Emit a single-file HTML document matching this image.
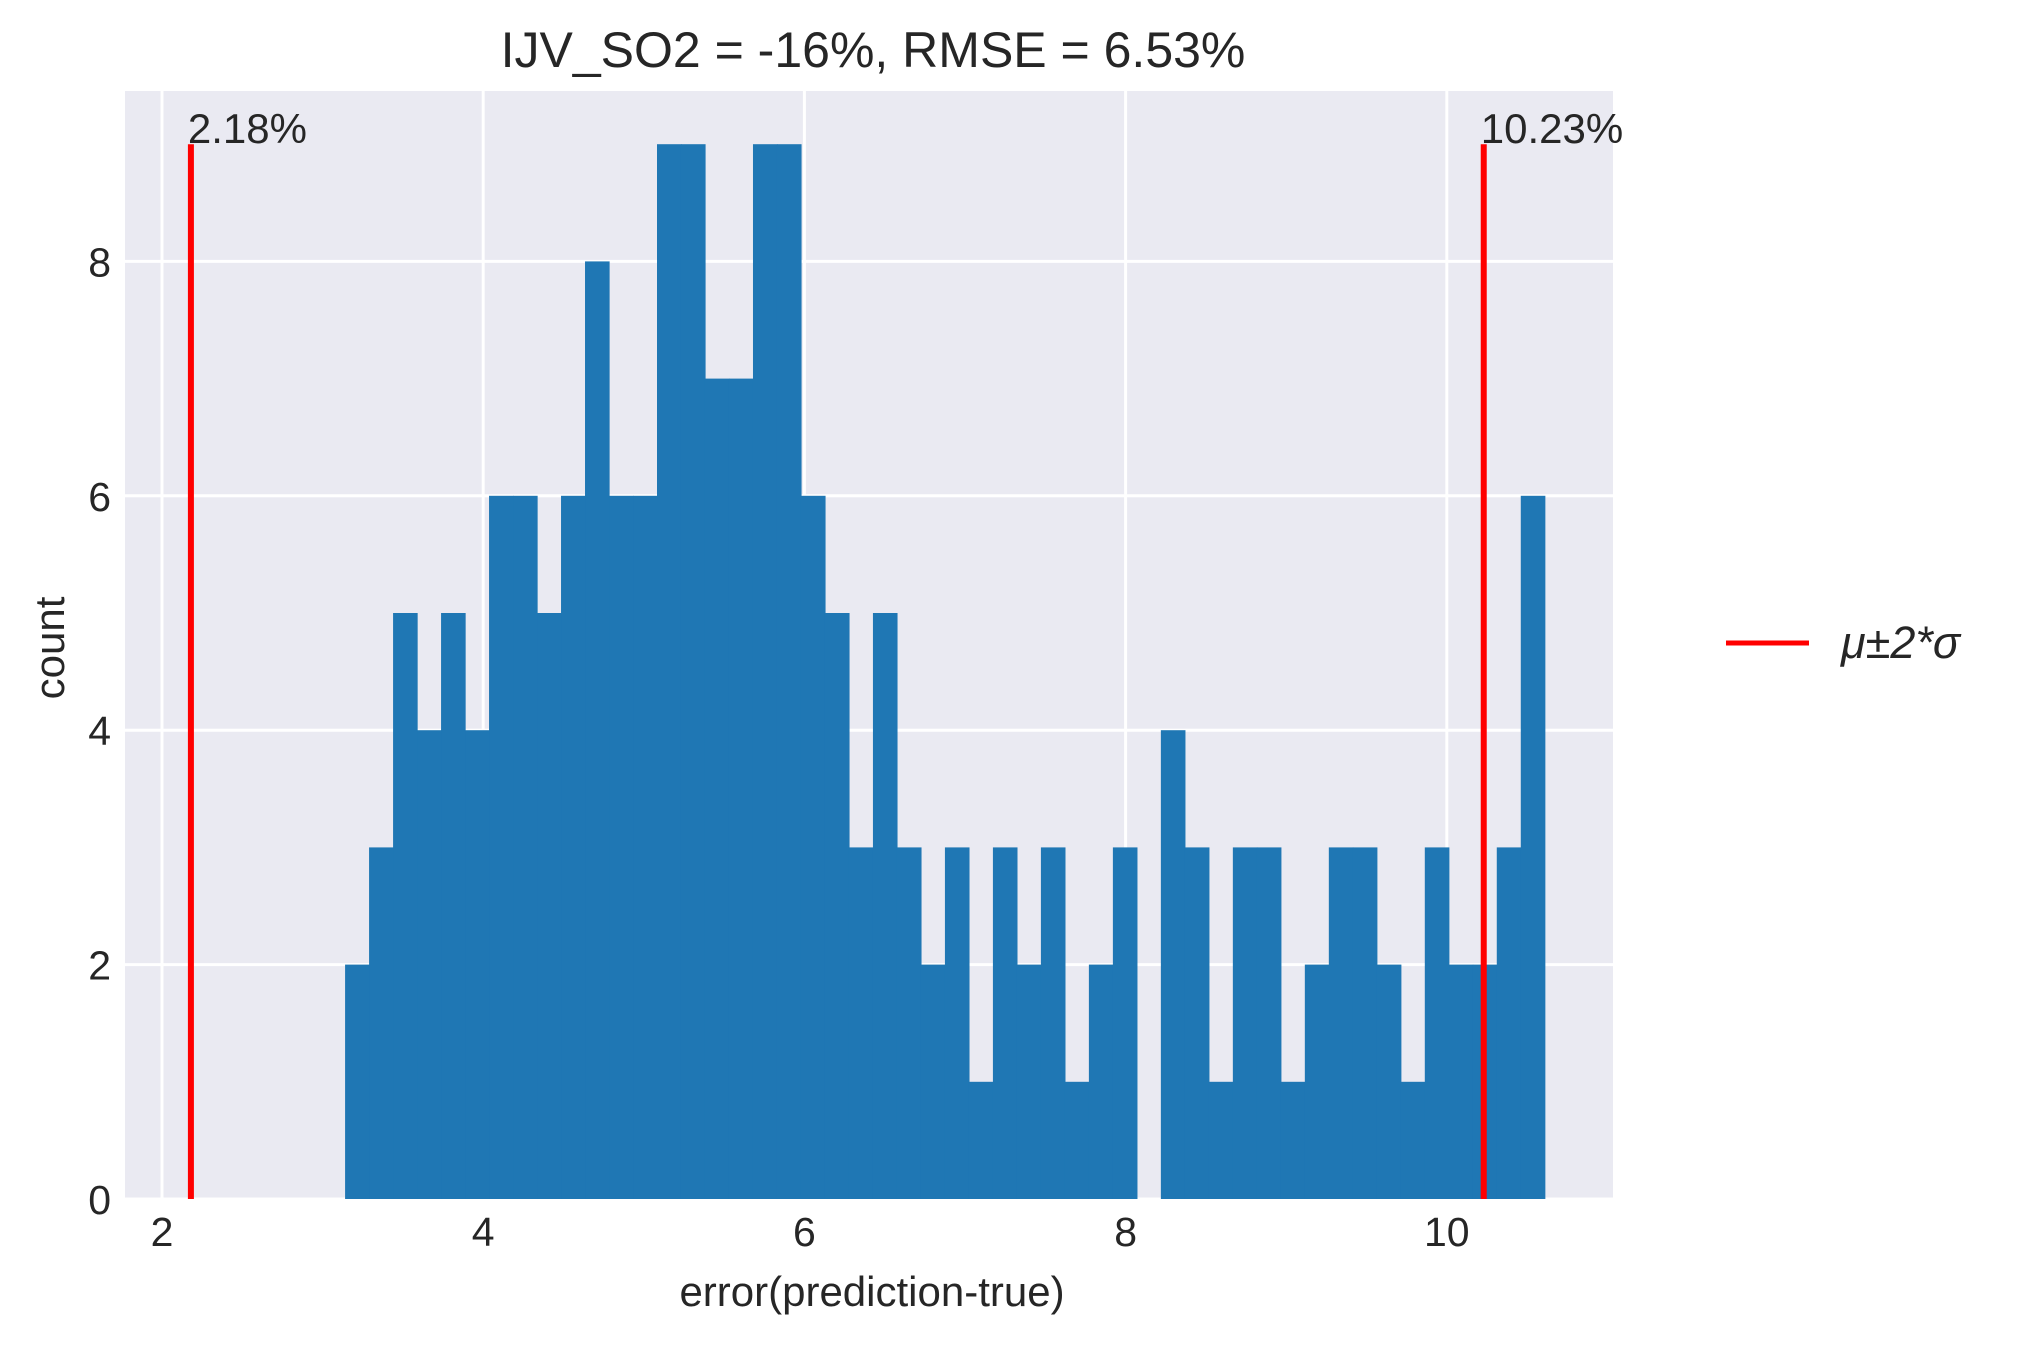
<!DOCTYPE html>
<html><head><meta charset="utf-8"><style>
body{margin:0;background:#fff}
svg text{font-family:"Liberation Sans",sans-serif;fill:#262626}
</style></head><body>
<svg id="chart" width="2018" height="1341" viewBox="0 0 2018 1341" xmlns="http://www.w3.org/2000/svg">
<rect x="125" y="91" width="1488" height="1108" fill="#eaeaf2"/>
<g id="grid"></g>
<g id="bars"></g>
<g id="lines"></g>
<g id="ticks"></g>
<text x="873" y="67" font-size="50" text-anchor="middle">IJV_SO2 = -16%, RMSE = 6.53%</text>
<text x="872" y="1306" font-size="42" text-anchor="middle">error(prediction-true)</text>
<text transform="translate(64,648) rotate(-90)" font-size="42" text-anchor="middle">count</text>
<g>
<line x1="1726" y1="643" x2="1809" y2="643" stroke="#ff0000" stroke-width="5"/>
<text x="1841" y="658" font-size="45" font-style="italic">μ±2*σ</text>
</g>
</svg>
<script>
const binStart = 3.14;
const binWidth = 0.1494;
const counts = [2,3,5,4,5,4,6,6,5,6,8,6,6,9,9,7,7,9,9,6,5,3,5,3,2,3,1,3,2,3,1,2,3,0,4,3,1,3,3,1,2,3,3,2,1,3,2,2,3,6];
const xTicks = [2,4,6,8,10];
const yTicks = [0,2,4,6,8];
const sigmaLines = [2.18, 10.23];
const sigmaLabels = ["2.18%","10.23%"];
const lineTop = 9;

const NS="http://www.w3.org/2000/svg";
const X = v => 162 + (v-2)*160.6;
const Y = v => 1199 - v*117.2;
function mk(tag, attrs, parent){const e=document.createElementNS(NS,tag);for(const k in attrs)e.setAttribute(k,attrs[k]);document.getElementById(parent).appendChild(e);return e;}

xTicks.forEach(t=>{
  const g=mk('line',{x1:X(t),x2:X(t),y1:91,y2:1199,stroke:'#fff','stroke-width':3},'grid');
  
  
  const l=mk('text',{x:X(t),y:1246,'font-size':41,'text-anchor':'middle'},'ticks');
  l.textContent=t;
  
  
});
yTicks.forEach(t=>{
  const g=mk('line',{x1:125,x2:1613,y1:Y(t),y2:Y(t),stroke:'#fff','stroke-width':3},'grid');
  
  
  const l=mk('text',{x:111,y:Y(t)+15,'font-size':41,'text-anchor':'end'},'ticks');
  l.textContent=t;
  
  
});
counts.forEach((c,i)=>{
  if(c<=0) return;
  const x0=X(binStart+i*binWidth), x1=X(binStart+(i+1)*binWidth);
  const r=mk('rect',{x:x0,y:Y(c),width:x1-x0+0.6,height:Y(0)-Y(c),fill:'#1f77b4'},'bars');
  
  
});
sigmaLines.forEach((v,i)=>{
  const l=mk('line',{x1:X(v),x2:X(v),y1:Y(0),y2:Y(lineTop),stroke:'#ff0000','stroke-width':6},'lines');
  
  
  const t=mk('text',{x:X(v)-3,y:Y(lineTop)-1,'font-size':42},'lines');
  t.textContent=sigmaLabels[i];
  
  
});
</script>
</body></html>
